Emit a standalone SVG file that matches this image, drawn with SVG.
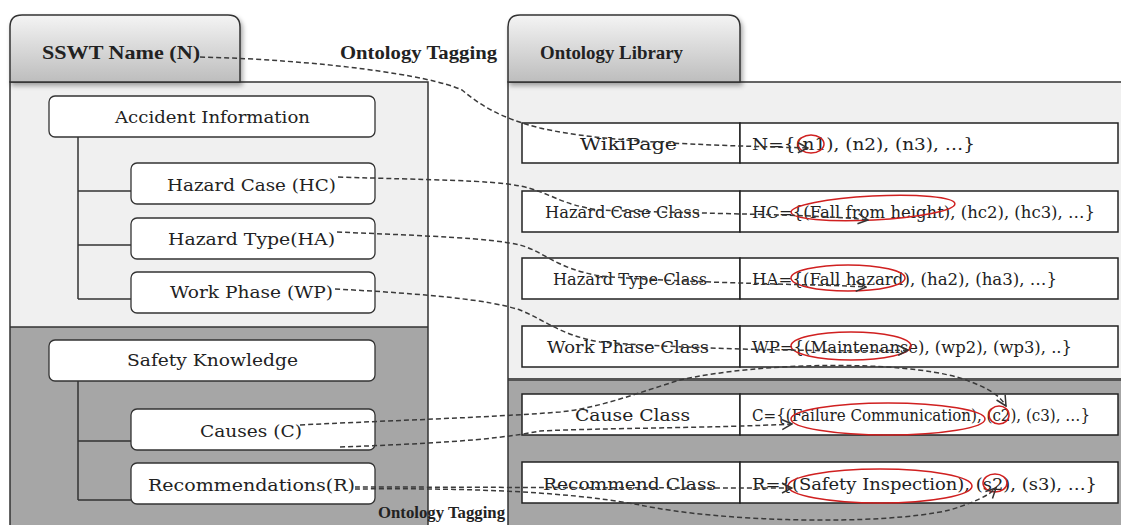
<svg xmlns="http://www.w3.org/2000/svg" width="1121" height="525" viewBox="0 0 1121 525">
<defs>
<linearGradient id="tabGrad" x1="0" y1="0" x2="0" y2="1">
<stop offset="0" stop-color="#f4f4f4"/>
<stop offset="1" stop-color="#bdbdbd"/>
</linearGradient>
<filter id="sh" x="-10%" y="-10%" width="130%" height="140%">
<feGaussianBlur in="SourceAlpha" stdDeviation="2.5"/>
<feOffset dx="2" dy="3" result="b"/>
<feComponentTransfer><feFuncA type="linear" slope="0.35"/></feComponentTransfer>
<feMerge><feMergeNode/><feMergeNode in="SourceGraphic"/></feMerge>
</filter>
<marker id="arr" viewBox="0 0 12 12" refX="11" refY="6" markerWidth="12" markerHeight="12" markerUnits="userSpaceOnUse" orient="auto">
<path d="M1,1 L11,6 L1,11" fill="none" stroke="#333" stroke-width="1.5"/>
</marker>
</defs>
<style>
.tab{fill:url(#tabGrad);stroke:#333;stroke-width:1.5}
.light{fill:#f0f0f0}
.dark{fill:#a6a6a6}
.frame{fill:none;stroke:#333;stroke-width:1.5}
.box{fill:#fff;stroke:#333;stroke-width:1.3}
.row{fill:#fff;stroke:#222;stroke-width:1.5}
.tree{fill:none;stroke:#333;stroke-width:1.5}
.t{font-family:"DejaVu Serif","Liberation Serif",serif;font-size:17px;fill:#222}
.tb{font-family:"Liberation Serif","DejaVu Serif",serif;font-weight:bold;font-size:19px;fill:#222}
.dash{fill:none;stroke:#3a3a3a;stroke-width:1.5;stroke-dasharray:5 3}
.red{fill:none;stroke:#d02020;stroke-width:1.5}
</style>

<!-- Left panel -->
<g id="left-panel">
<rect class="light" x="10" y="82" width="418" height="245"/>
<rect class="dark" x="10" y="327" width="418" height="198"/>
<line x1="10" y1="327" x2="428" y2="327" stroke="#333" stroke-width="1.5"/>
<path class="frame" d="M10,525 L10,82 L428,82 L428,525"/>
<path class="tab" filter="url(#sh)" d="M10,82 L10,27 Q10,15 22,15 L228,15 Q240,15 240,27 L240,82 Z"/>
<text class="tb" x="42" y="59" textLength="158" lengthAdjust="spacingAndGlyphs">SSWT Name (N)</text>
</g>

<!-- Right panel -->
<g id="right-panel">
<rect class="light" x="508" y="82" width="613" height="297"/>
<rect class="dark" x="508" y="379" width="613" height="146"/>
<line x1="508" y1="379.5" x2="1121" y2="379.5" stroke="#555" stroke-width="3"/>
<path class="frame" d="M508,525 L508,82 L1121,82"/>
<path class="tab" filter="url(#sh)" d="M508,82 L508,27 Q508,15 520,15 L728,15 Q740,15 740,27 L740,82 Z"/>
<text class="tb" x="540" y="59" textLength="143" lengthAdjust="spacingAndGlyphs">Ontology Library</text>
</g>

<!-- tree lines -->
<g id="tree">
<path class="tree" d="M78,137 L78,299 M78,191 L132,191 M78,245 L132,245 M78,299 L132,299"/>
<path class="tree" d="M78,381 L78,500 M78,441 L132,441 M78,500 L132,500"/>
</g>

<g id="accident-information">
<rect class="box" x="49" y="96" width="326" height="41" rx="6"/>
<text class="t" x="115" y="123" textLength="195" lengthAdjust="spacingAndGlyphs">Accident Information</text>
</g>
<g id="hazard-case">
<rect class="box" x="131" y="163" width="244" height="41" rx="6"/>
<text class="t" x="167" y="191" textLength="169" lengthAdjust="spacingAndGlyphs">Hazard Case (HC)</text>
</g>
<g id="hazard-type">
<rect class="box" x="131" y="218" width="244" height="41" rx="6"/>
<text class="t" x="168" y="245" textLength="167" lengthAdjust="spacingAndGlyphs">Hazard Type(HA)</text>
</g>
<g id="work-phase">
<rect class="box" x="131" y="272" width="244" height="41" rx="6"/>
<text class="t" x="170" y="298" textLength="163" lengthAdjust="spacingAndGlyphs">Work Phase (WP)</text>
</g>
<g id="safety-knowledge">
<rect class="box" x="49" y="340" width="326" height="41" rx="6"/>
<text class="t" x="127" y="366" textLength="171" lengthAdjust="spacingAndGlyphs">Safety Knowledge</text>
</g>
<g id="causes">
<rect class="box" x="131" y="409" width="244" height="41" rx="6"/>
<text class="t" x="200" y="437" textLength="102" lengthAdjust="spacingAndGlyphs">Causes (C)</text>
</g>
<g id="recommendations">
<rect class="box" x="131" y="463" width="244" height="41" rx="6"/>
<text class="t" x="148" y="491" textLength="207" lengthAdjust="spacingAndGlyphs">Recommendations(R)</text>
</g>

<!-- Ontology rows -->
<g id="row-wikipage">
<rect class="row" x="522" y="123" width="218" height="40"/>
<rect class="row" x="740" y="123" width="378" height="40"/>
<text class="t" x="580" y="150" textLength="97" lengthAdjust="spacingAndGlyphs">WikiPage</text>
<text class="t" x="752" y="150" textLength="223" lengthAdjust="spacingAndGlyphs">N={(n1), (n2), (n3), …}</text>
</g>
<g id="row-hazard-case">
<rect class="row" x="522" y="191" width="218" height="41"/>
<rect class="row" x="740" y="191" width="378" height="41"/>
<text class="t" x="545" y="218" textLength="155" lengthAdjust="spacingAndGlyphs">Hazard Case Class</text>
<text class="t" x="752" y="218" textLength="343" lengthAdjust="spacingAndGlyphs">HC={(Fall from height), (hc2), (hc3), …}</text>
</g>
<g id="row-hazard-type">
<rect class="row" x="522" y="258" width="218" height="41"/>
<rect class="row" x="740" y="258" width="378" height="41"/>
<text class="t" x="553" y="285" textLength="154" lengthAdjust="spacingAndGlyphs">Hazard Type Class</text>
<text class="t" x="752" y="285" textLength="305" lengthAdjust="spacingAndGlyphs">HA={(Fall hazard), (ha2), (ha3), …}</text>
</g>
<g id="row-work-phase">
<rect class="row" x="522" y="326" width="218" height="41"/>
<rect class="row" x="740" y="326" width="378" height="41"/>
<text class="t" x="547" y="353" textLength="162" lengthAdjust="spacingAndGlyphs">Work Phase Class</text>
<text class="t" x="752" y="353" textLength="320" lengthAdjust="spacingAndGlyphs">WP={(Maintenanse), (wp2), (wp3), ..}</text>
</g>
<g id="row-cause">
<rect class="row" x="522" y="394" width="218" height="41"/>
<rect class="row" x="740" y="394" width="378" height="41"/>
<text class="t" x="575" y="421" textLength="115" lengthAdjust="spacingAndGlyphs">Cause Class</text>
<text class="t" x="752" y="421" textLength="338" lengthAdjust="spacingAndGlyphs">C={(Failure Communication), (c2), (c3), …}</text>
</g>
<g id="row-recommend">
<rect class="row" x="522" y="462" width="218" height="41"/>
<rect class="row" x="740" y="462" width="378" height="41"/>
<text class="t" x="543" y="490" textLength="173" lengthAdjust="spacingAndGlyphs">Recommend Class</text>
<text class="t" x="752" y="490" textLength="345" lengthAdjust="spacingAndGlyphs">R={(Safety Inspection), (s2), (s3), …}</text>
</g>

<!-- red highlight ellipses -->
<g id="highlights">
<ellipse class="red" cx="811" cy="144" rx="13" ry="9"/>
<ellipse class="red" cx="873" cy="208" rx="82" ry="12" transform="rotate(-3 873 208)"/>
<ellipse class="red" cx="848" cy="278" rx="57" ry="13"/>
<ellipse class="red" cx="851" cy="346" rx="60" ry="14"/>
<ellipse class="red" cx="888" cy="419" rx="97" ry="16"/>
<ellipse class="red" cx="999" cy="415" rx="10" ry="9"/>
<ellipse class="red" cx="880" cy="486" rx="92" ry="17"/>
<ellipse class="red" cx="995" cy="483" rx="12" ry="9"/>
</g>

<!-- connectors -->
<g id="connectors">
<path class="dash" marker-end="url(#arr)" d="M200,57 C320,60 430,75 462,90 C480,105 500,118 540,128 C600,142 700,145 808,148"/>
<path class="dash" marker-end="url(#arr)" d="M338,177 C430,180 490,180 520,186 C550,192 560,205 600,210 C700,214 820,214 868,220"/>
<path class="dash" marker-end="url(#arr)" d="M337,232 C430,236 490,238 520,245 C545,252 555,268 600,276 C700,284 820,284 866,287"/>
<path class="dash" marker-end="url(#arr)" d="M335,289 C430,294 490,300 520,310 C545,320 560,335 600,342 C700,350 860,352 908,350"/>
<path class="dash" marker-end="url(#arr)" d="M300,425 C400,420 480,418 560,412 C600,408 640,392 680,380 C760,362 900,360 960,378 C990,388 1000,396 1006,406"/>
<path class="dash" marker-end="url(#arr)" d="M340,447 C420,444 490,441 540,431 C600,428 720,428 792,424"/>
<path class="dash" marker-end="url(#arr)" d="M355,487 C450,487 600,488 792,488"/>
<path class="dash" marker-end="url(#arr)" d="M355,489 C450,488 560,490 640,505 C720,522 880,526 950,510 C975,502 988,496 996,488"/>
</g>

<g id="labels">
<text class="tb" x="340" y="59" textLength="157" lengthAdjust="spacingAndGlyphs" style="font-size:18px">Ontology Tagging</text>
<text class="tb" x="378" y="518" textLength="127" lengthAdjust="spacingAndGlyphs" style="font-size:16px">Ontology Tagging</text>
</g>
</svg>
